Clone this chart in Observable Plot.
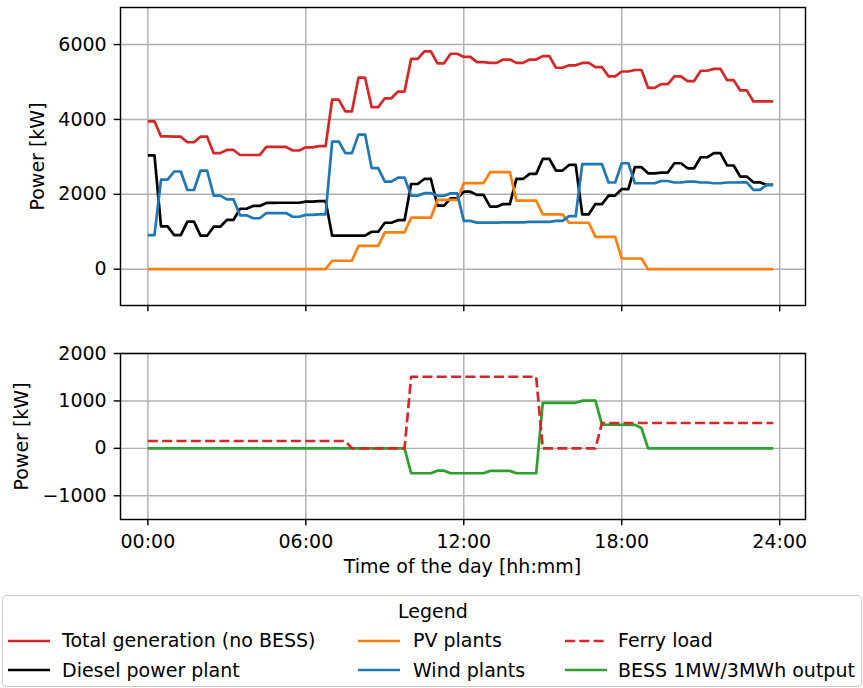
<!DOCTYPE html>
<html>
<head>
<meta charset="utf-8">
<script src="https://cdn.jsdelivr.net/npm/d3@7"></script>
<script src="https://cdn.jsdelivr.net/npm/@observablehq/plot@0.6"></script>
<style>
  html, body { margin: 0; padding: 0; background: #fff; }
  #fig { position: relative; width: 863px; height: 688px; overflow: hidden; font-family: "DejaVu Sans", sans-serif; color: #000; }
  .txt { position: absolute; font-size: 19px; line-height: 19px; white-space: nowrap; }
</style>
</head>
<body>
<div id="fig"></div>
<script>
// ---------- DATA ----------
// start time (hours) of each half-hour slot; each value is held for two 15-min steps
const slotStart = [0,0.5,1,1.5,2,2.5,3,3.5,4,4.5,5,5.5,6,6.5,7,7.5,8,8.5,9,9.5,10,10.5,11,11.5,
                   12,12.5,13,13.5,14,14.5,15,15.5,16,16.5,17,17.5,18,18.5,19,19.5,20,20.5,21,21.5,22,22.5,23,23.5];

const totalGen = [3950,3545,3540,3390,3540,3100,3185,3050,3050,3265,3265,3170,3255,3285,4530,4215,
                  5115,4330,4565,4745,5620,5820,5500,5755,5670,5530,5510,5600,5510,5600,5690,5380,
                  5445,5510,5395,5150,5280,5320,4845,4945,5150,5025,5300,5350,5050,4775,4480,4480];
const diesel   = [3040,1145,910,1270,895,1135,1315,1615,1690,1770,1775,1775,1805,1820,895,895,
                  895,1000,1240,1310,2275,2410,1700,1890,2070,1985,1670,1740,2410,2545,2945,2635,
                  2785,1465,1740,1965,2140,2725,2560,2580,2830,2695,2990,3100,2770,2475,2320,2250];
const pv       = [0,0,0,0,0,0,0,0,0,0,0,0,0,0,225,225,
                  625,625,985,985,1375,1375,1850,1850,2300,2300,2590,2590,1830,1830,1465,1465,
                  1240,1240,865,865,285,285,0,0,0,0,0,0,0,0,0,0];
const wind     = [910,2390,2610,2115,2635,1965,1865,1440,1360,1500,1500,1400,1450,1465,3410,3100,
                  3595,2700,2340,2445,1965,2030,1960,2025,1290,1245,1245,1250,1250,1265,1265,1290,
                  1415,2805,2805,2315,2830,2295,2295,2355,2315,2340,2315,2295,2315,2320,2120,2250];

// bottom panel: breakpoints (hours, kW)
const ferryT = [0, 7.5, 7.75, 9.75, 10, 14.75, 15, 17, 17.25, 23.75];
const ferryV = [155, 155, 0, 0, 1510, 1510, 0, 0, 535, 535];
const bessT  = [0, 9.75, 10, 10.75, 11, 11.25, 11.5, 12.75, 13, 13.75, 14, 14.75, 15, 16.25, 16.5, 17, 17.25, 18.5, 18.75, 19, 23.75];
const bessV  = [0, 0, -525, -525, -470, -470, -525, -525, -475, -475, -525, -525, 960, 960, 1005, 1005, 500, 495, 430, 0, 0];

const xTicks = [0, 6, 12, 18, 24];
const topTicks = [0, 2000, 4000, 6000];
const botTicks = [-1000, 0, 1000, 2000];

const seriesNames = ["Total generation (no BESS)", "Diesel power plant", "PV plants", "Wind plants", "Ferry load", "BESS 1MW/3MWh output"];
const seriesColors = ["#d62728", "#000000", "#ff7f0e", "#1f77b4", "#d62728", "#2ca02c"];

// ---------- TABLES ----------
function held(values) {
  const out = [];
  values.forEach((v, k) => { out.push({t: slotStart[k], v}); out.push({t: slotStart[k] + 0.25, v}); });
  return out;
}
function pairs(T, V) { return T.map((t, i) => ({t, v: V[i]})); }

const fmtH = h => String(h).padStart(2, "0") + ":00";
const fmtY = d => d < 0 ? "\u2212" + Math.abs(d) : String(d);

const FS = 19;
const LW = 2.7, GW = 1.45;
const common = {
  width: 863,
  marginLeft: 120, marginRight: 58,
  style: {fontFamily: "DejaVu Sans", fontSize: FS + "px", color: "#000", background: "transparent", overflow: "visible"},
  x: {domain: [-1.04, 24.98]}
};
const lineOpts = (color, extra = {}) => ({x: "t", y: "v", stroke: color, strokeWidth: LW, strokeLinejoin: "round", strokeLinecap: "butt", ...extra});

const topPlot = Plot.plot({
  ...common,
  height: 340, marginTop: 7, marginBottom: 35,
  y: {domain: [-970, 6990]},
  marks: [
    Plot.gridX({ticks: xTicks, stroke: "#b0b0b0", strokeOpacity: 1, strokeWidth: GW}),
    Plot.gridY({ticks: topTicks, stroke: "#b0b0b0", strokeOpacity: 1, strokeWidth: GW}),
    Plot.line(held(totalGen), lineOpts(seriesColors[0])),
    Plot.line(held(diesel), lineOpts(seriesColors[1])),
    Plot.line(held(pv), lineOpts(seriesColors[2])),
    Plot.line(held(wind), lineOpts(seriesColors[3])),
    Plot.frame({stroke: "#000", strokeWidth: GW}),
    Plot.axisX({ticks: xTicks, tickFormat: () => "", tickSize: 6.3, strokeWidth: GW, label: null}),
    Plot.axisY({ticks: topTicks, tickFormat: fmtY, tickSize: 6.3, tickPadding: 7.5, fontSize: FS, strokeWidth: GW, label: null})
  ]
});

const botPlot = Plot.plot({
  ...common,
  height: 240, marginTop: 13, marginBottom: 61,
  y: {domain: [-1500, 2000]},
  marks: [
    Plot.gridX({ticks: xTicks, stroke: "#b0b0b0", strokeOpacity: 1, strokeWidth: GW}),
    Plot.gridY({ticks: botTicks, stroke: "#b0b0b0", strokeOpacity: 1, strokeWidth: GW}),
    Plot.line(pairs(bessT, bessV), lineOpts(seriesColors[5])),
    Plot.line(pairs(ferryT, ferryV), lineOpts(seriesColors[4], {strokeDasharray: "10,4.3"})),
    Plot.frame({stroke: "#000", strokeWidth: GW}),
    Plot.axisX({ticks: xTicks, tickFormat: fmtH, tickSize: 6.3, tickPadding: 8.2, fontSize: FS, strokeWidth: GW, label: null}),
    Plot.axisY({ticks: botTicks, tickFormat: fmtY, tickSize: 6.3, tickPadding: 7.5, fontSize: FS, strokeWidth: GW, label: null})
  ]
});

const fig = document.getElementById("fig");
topPlot.style.position = "absolute"; topPlot.style.left = "0px"; topPlot.style.top = "0px";
botPlot.style.position = "absolute"; botPlot.style.left = "0px"; botPlot.style.top = "340px";
fig.appendChild(topPlot);
fig.appendChild(botPlot);

// ---------- TEXT LABELS ----------
const BASE = -((1.164 * FS - FS) / 2) + 0.928 * FS; // baseline offset inside a line box
function addText(str, cx, baseline, opts = {}) {
  const d = document.createElement("div");
  d.className = "txt";
  d.textContent = str;
  fig.appendChild(d);
  const w = d.getBoundingClientRect().width;
  if (opts.rotate) {
    const cxr = baseline - (BASE - FS / 2);
    d.style.left = (cxr - w / 2) + "px";
    d.style.top = (cx - FS / 2) + "px";
    d.style.transform = "rotate(-90deg)";
    d.style.transformOrigin = "50% 50%";
  } else if (opts.left != null) {
    d.style.left = opts.left + "px";
    d.style.top = (baseline - BASE) + "px";
  } else {
    d.style.left = (cx - w / 2) + "px";
    d.style.top = (baseline - BASE) + "px";
  }
  return d;
}
addText("Time of the day [hh:mm]", 462.5, 573.5);
addText("Power [kW]", 156, 43.5, {rotate: true});
addText("Power [kW]", 436, 27.5, {rotate: true});

// ---------- LEGEND ----------
const box = document.createElement("div");
Object.assign(box.style, {position: "absolute", left: "2px", top: "595px", width: "858px", height: "90px",
  border: "1px solid #cccccc", borderRadius: "4px", background: "rgba(255,255,255,0.8)"});
fig.appendChild(box);
addText("Legend", 433, 618.5);

const legRows = [647.5, 677];
const legCols = [{s: 8, t: 62}, {s: 358, t: 413}, {s: 565, t: 618}];
seriesNames.forEach((name, i) => {
  const col = Math.floor(i / 2), row = i % 2;
  const base = legRows[row];
  const ly = base - 7;
  const svg = d3.create("svg").attr("width", 44).attr("height", 10)
    .style("position", "absolute").style("left", legCols[col].s + "px").style("top", (ly - 5) + "px");
  svg.append("line").attr("x1", 0).attr("x2", 42).attr("y1", 5).attr("y2", 5)
    .attr("stroke", seriesColors[i]).attr("stroke-width", LW)
    .attr("stroke-dasharray", name === "Ferry load" ? "10,4.3" : null);
  fig.appendChild(svg.node());
  addText(name, 0, base, {left: legCols[col].t});
});
</script>
</body>
</html>
